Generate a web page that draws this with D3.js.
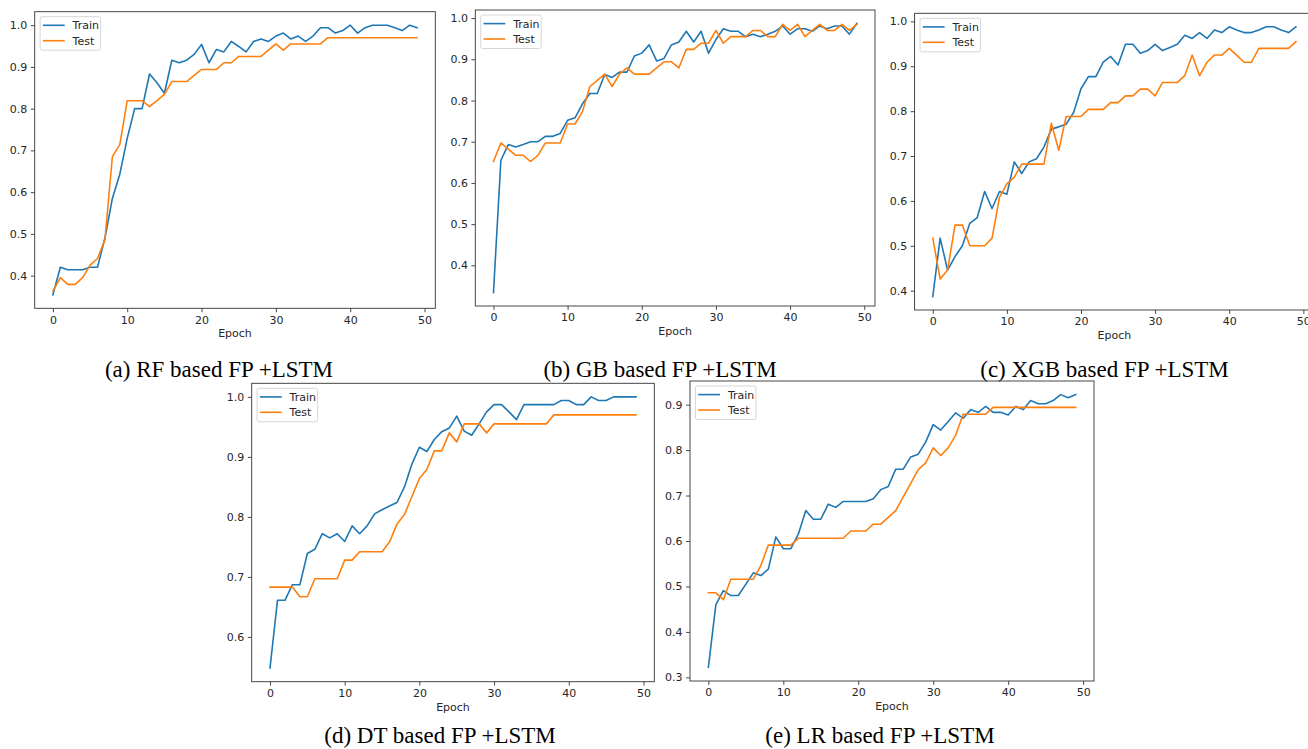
<!DOCTYPE html>
<head>
<meta charset="utf-8">
<style>
body {
  margin: 0;
  background: #fff;
}
svg {
  display: block;
}
.tick text, .axis-label, .legend text {
  font-family: "DejaVu Sans", sans-serif;
  font-size: 11px;
  fill: #262626;
}
.caption {
  font-family: "Liberation Serif", "Times New Roman", serif;
  font-size: 23px;
  fill: #000;
}
</style>
<script src="https://d3js.org/d3.v7.min.js"></script>
</head>
<body>
</body>
<script>
  const width = 1308;
  const height = 749;

  const epochs = d3.range(50);
  const xTicks = [0, 10, 20, 30, 40, 50];

  const rfTrain = [0.354,0.42,0.414,0.414,0.414,0.42,0.42,0.49,0.585,0.643,
    0.729,0.80,0.80,0.883,0.862,0.837,0.916,0.910,0.916,0.93,
    0.954,0.910,0.942,0.936,0.961,0.949,0.936,0.961,0.967,0.961,
    0.974,0.981,0.967,0.974,0.961,0.974,0.994,0.994,0.981,0.987,
    1.0,0.981,0.994,1.0,1.0,1.0,0.994,0.987,1.0,0.994];
  const rfTest = [0.363,0.395,0.379,0.379,0.395,0.425,0.441,0.486,0.685,0.714,
    0.819,0.819,0.819,0.805,0.819,0.834,0.865,0.865,0.865,0.88,
    0.894,0.894,0.894,0.91,0.91,0.925,0.925,0.925,0.925,0.94,
    0.955,0.94,0.955,0.955,0.955,0.955,0.955,0.97,0.97,0.97,
    0.97,0.97,0.97,0.97,0.97,0.97,0.97,0.97,0.97,0.97];

  const gbTrain = [0.334,0.655,0.693,0.687,0.693,0.70,0.70,0.713,0.713,0.72,
    0.752,0.758,0.792,0.817,0.817,0.863,0.856,0.869,0.869,0.908,
    0.915,0.935,0.896,0.902,0.935,0.942,0.968,0.942,0.968,0.915,
    0.948,0.974,0.968,0.968,0.955,0.961,0.955,0.961,0.968,0.981,
    0.961,0.974,0.974,0.968,0.981,0.974,0.981,0.981,0.961,0.987];
  const gbTest = [0.652,0.697,0.682,0.667,0.667,0.652,0.667,0.697,0.697,0.697,
    0.743,0.743,0.773,0.834,0.849,0.864,0.834,0.864,0.879,0.864,
    0.864,0.864,0.879,0.894,0.894,0.879,0.924,0.924,0.939,0.939,
    0.97,0.939,0.955,0.955,0.955,0.97,0.97,0.955,0.955,0.985,
    0.97,0.985,0.955,0.97,0.985,0.97,0.97,0.985,0.97,0.985];

  const xgbTrain = [0.387,0.517,0.446,0.476,0.50,0.55,0.563,0.621,0.583,0.621,
    0.615,0.687,0.661,0.687,0.694,0.72,0.76,0.765,0.771,0.797,
    0.85,0.877,0.877,0.909,0.922,0.903,0.949,0.949,0.929,0.935,
    0.949,0.935,0.942,0.949,0.969,0.962,0.975,0.962,0.981,0.975,
    0.988,0.981,0.975,0.975,0.981,0.988,0.988,0.981,0.975,0.988];
  const xgbTest = [0.517,0.426,0.446,0.546,0.546,0.50,0.50,0.50,0.517,0.608,
    0.638,0.653,0.682,0.682,0.682,0.682,0.773,0.713,0.788,0.788,
    0.788,0.804,0.804,0.804,0.819,0.819,0.834,0.834,0.849,0.849,
    0.834,0.864,0.864,0.864,0.879,0.925,0.879,0.909,0.925,0.925,
    0.94,0.925,0.909,0.909,0.94,0.94,0.94,0.94,0.94,0.955];

  const dtTrain = [0.548,0.661,0.661,0.687,0.687,0.739,0.746,0.772,0.765,0.772,
    0.759,0.785,0.772,0.785,0.805,0.812,0.818,0.824,0.85,0.888,
    0.916,0.909,0.929,0.942,0.948,0.968,0.943,0.936,0.955,0.975,
    0.987,0.987,0.975,0.962,0.987,0.987,0.987,0.987,0.987,0.994,
    0.994,0.987,0.987,1.0,0.994,0.994,1.0,1.0,1.0,1.0];
  const dtTest = [0.683,0.683,0.683,0.683,0.667,0.667,0.697,0.697,0.697,0.697,
    0.728,0.728,0.742,0.742,0.742,0.742,0.758,0.788,0.804,0.834,
    0.864,0.879,0.91,0.91,0.94,0.925,0.955,0.955,0.955,0.94,
    0.955,0.955,0.955,0.955,0.955,0.955,0.955,0.955,0.97,0.97,
    0.97,0.97,0.97,0.97,0.97,0.97,0.97,0.97,0.97,0.97];

  const lrTrain = [0.322,0.46,0.491,0.48,0.48,0.505,0.53,0.524,0.538,0.609,
    0.583,0.583,0.615,0.667,0.648,0.648,0.681,0.674,0.687,0.687,
    0.687,0.687,0.693,0.713,0.72,0.758,0.758,0.785,0.791,0.818,
    0.856,0.844,0.863,0.882,0.87,0.889,0.883,0.896,0.883,0.883,
    0.877,0.896,0.889,0.909,0.902,0.902,0.909,0.922,0.915,0.922];
  const lrTest = [0.486,0.486,0.471,0.516,0.516,0.516,0.516,0.546,0.591,0.591,
    0.591,0.591,0.606,0.606,0.606,0.606,0.606,0.606,0.606,0.622,
    0.622,0.622,0.637,0.637,0.652,0.667,0.697,0.727,0.757,0.772,
    0.805,0.788,0.805,0.833,0.879,0.879,0.879,0.879,0.894,0.894,
    0.894,0.894,0.894,0.894,0.894,0.894,0.894,0.894,0.894,0.894];

  const seriesNames = ["Train", "Test"];
  const colors = ["#1f77b4", "#ff7f0e"];

  const panels = [
    { caption: "(a) RF based FP +LSTM", train: rfTrain, test: rfTest,
      yTicks: [0.4, 0.5, 0.6, 0.7, 0.8, 0.9, 1.0],
      box: { x: 34.7, y: 11.7, w: 400.6, h: 296.6 }, cap: { x: 219, y: 377 } },
    { caption: "(b) GB based FP +LSTM", train: gbTrain, test: gbTest,
      yTicks: [0.4, 0.5, 0.6, 0.7, 0.8, 0.9, 1.0],
      box: { x: 475.3, y: 10, w: 399.7, h: 296 }, cap: { x: 660, y: 377 } },
    { caption: "(c) XGB based FP +LSTM", train: xgbTrain, test: xgbTest,
      yTicks: [0.4, 0.5, 0.6, 0.7, 0.8, 0.9, 1.0],
      box: { x: 914.6, y: 13.3, w: 399.5, h: 296.7 }, cap: { x: 1104.5, y: 377 } },
    { caption: "(d) DT based FP +LSTM", train: dtTrain, test: dtTest,
      yTicks: [0.6, 0.7, 0.8, 0.9, 1.0],
      box: { x: 251.7, y: 383.3, w: 402.6, h: 298.4 }, cap: { x: 440, y: 743 } },
    { caption: "(e) LR based FP +LSTM", train: lrTrain, test: lrTest,
      yTicks: [0.3, 0.4, 0.5, 0.6, 0.7, 0.8, 0.9],
      box: { x: 690, y: 381, w: 404, h: 300 }, cap: { x: 880, y: 743 } }
  ];

  var svg = d3.select("body")
    .append("svg")
    .attr("width", width)
    .attr("height", height);

  svg.append("rect")
    .attr("width", width)
    .attr("height", height)
    .attr("fill", "#fff");

  panels.forEach(drawPanel);

  function drawPanel(p) {
    var b = p.box;
    var g = svg.append("g");

    // matplotlib style 5% margins
    var xPad = (d3.max(epochs) - d3.min(epochs)) * 0.05;
    var x = d3.scaleLinear()
      .domain([d3.min(epochs) - xPad, d3.max(epochs) + xPad])
      .range([b.x, b.x + b.w]);

    var all = p.train.concat(p.test);
    var lo = d3.min(all), hi = d3.max(all);
    var yPad = (hi - lo) * 0.05;
    var y = d3.scaleLinear()
      .domain([lo - yPad, hi + yPad])
      .range([b.y + b.h, b.y]);

    var xAxis = d3.axisBottom(x)
      .tickValues(xTicks)
      .tickSize(3.9)
      .tickPadding(3.5)
      .tickFormat(d3.format("d"));
    var yAxis = d3.axisLeft(y)
      .tickValues(p.yTicks)
      .tickSize(3.9)
      .tickPadding(3.5)
      .tickFormat(d3.format(".1f"));

    g.append("g")
      .attr("transform", "translate(0," + (b.y + b.h) + ")")
      .call(xAxis)
      .call(function(a) { a.select(".domain").remove(); })
      .call(function(a) { a.selectAll("line").attr("stroke", "#333").attr("stroke-width", 0.9); })
      .call(function(a) { a.selectAll("text").attr("fill", null).attr("font-family", null).attr("font-size", null); });

    g.append("g")
      .attr("transform", "translate(" + b.x + ",0)")
      .call(yAxis)
      .call(function(a) { a.select(".domain").remove(); })
      .call(function(a) { a.selectAll("line").attr("stroke", "#333").attr("stroke-width", 0.9); })
      .call(function(a) { a.selectAll("text").attr("fill", null).attr("font-family", null).attr("font-size", null); });

    g.append("text")
      .attr("class", "axis-label")
      .attr("x", b.x + b.w / 2)
      .attr("y", b.y + b.h + 29)
      .attr("text-anchor", "middle")
      .text("Epoch");

    var clipId = "clip" + Math.round(b.x);
    g.append("clipPath")
      .attr("id", clipId)
      .append("rect")
      .attr("x", b.x).attr("y", b.y)
      .attr("width", b.w).attr("height", b.h);

    var line = d3.line()
      .x(function(d, i) { return x(epochs[i]); })
      .y(function(d) { return y(d); });

    [p.train, p.test].forEach(function(s, i) {
      g.append("path")
        .datum(s)
        .attr("clip-path", "url(#" + clipId + ")")
        .attr("fill", "none")
        .attr("stroke", colors[i])
        .attr("stroke-width", 1.6)
        .attr("stroke-linejoin", "round")
        .attr("stroke-linecap", "square")
        .attr("d", line);
    });

    g.append("rect")
      .attr("x", b.x).attr("y", b.y)
      .attr("width", b.w).attr("height", b.h)
      .attr("fill", "none")
      .attr("stroke", "#333")
      .attr("stroke-width", 0.9);

    // legend, upper left
    var lg = g.append("g")
      .attr("class", "legend")
      .attr("transform", "translate(" + (b.x + 5.4) + "," + (b.y + 5) + ")");
    lg.append("rect")
      .attr("width", 60.5).attr("height", 33.5)
      .attr("rx", 2).attr("ry", 2)
      .attr("fill", "#fff").attr("fill-opacity", 0.8)
      .attr("stroke", "#ccc").attr("stroke-width", 0.8);
    seriesNames.forEach(function(name, i) {
      var ly = 8.6 + i * 15.4;
      lg.append("line")
        .attr("x1", 2.8).attr("x2", 24.6)
        .attr("y1", ly).attr("y2", ly)
        .attr("stroke", colors[i])
        .attr("stroke-width", 1.6);
      lg.append("text")
        .attr("x", 32.5)
        .attr("y", ly)
        .attr("dy", "0.36em")
        .text(name);
    });

    svg.append("text")
      .attr("class", "caption")
      .attr("x", p.cap.x)
      .attr("y", p.cap.y)
      .attr("text-anchor", "middle")
      .text(p.caption);
  }
</script>
</html>
